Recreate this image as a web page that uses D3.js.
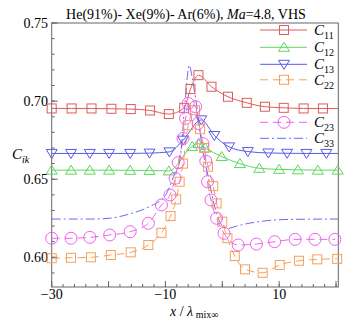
<!DOCTYPE html>
<html lang="en">
<head>
<meta charset="UTF-8">
<title>C_ik profiles</title>
<script src="https://d3js.org/d3.v7.min.js"></script>
<style>
body{margin:0; background:#fff;}
svg text{font-family:"Liberation Serif","Times New Roman",serif; fill:#000;}
</style>
</head>
<body>
<div class="chart"></div>
<script>
// data
var c11X = [-30,-26.5,-23,-19.5,-16.1,-12.7,-9.4,-6.7,-5.6,-4.2,-1.9,1.0,4.3,7.5,10.8,14.3,17.7,20.4];
var c11Y = [0.6953,0.6953,0.6953,0.6951,0.6949,0.694,0.6917,0.6957,0.7077,0.7166,0.7092,0.7028,0.6989,0.6964,0.6957,0.6953,0.6953,0.6953];

var c12X = [-30,-26.6,-23.3,-19.9,-16.2,-12.8,-9.4,-5.3,-4.2,-3.0,-0.1,3.1,6.5,10.0,13.3,16.8,20.3];
var c12Y = [0.6558,0.6558,0.6558,0.6558,0.6557,0.6556,0.6553,0.671,0.6728,0.670,0.6645,0.660,0.657,0.6563,0.656,0.6558,0.6558];

var c13X = [-30,-26.6,-23.3,-19.9,-16.2,-12.8,-9.3,-6.9,-3.7,-1.4,1.2,4.5,8.1,11.4,14.8,18.3,20.4];
var c13Y = [0.6665,0.6665,0.6665,0.6665,0.6665,0.6667,0.6675,0.675,0.688,0.678,0.6707,0.6677,0.6668,0.6666,0.6665,0.6665,0.6665];

var c22X = [-30,-26.6,-23.1,-19.6,-16.1,-13.0,-10.7,-9.1,-8.1,-7.5,-6.9,-6.0,-4.8,-3.9,-3.2,-2.5,-1.6,-1.0,0.0,0.9,2.2,4.0,7.1,10.1,13.5,16.7,20.2];
var c22Y = [0.5994,0.5997,0.600,0.6015,0.6032,0.6079,0.6157,0.6264,0.6371,0.6484,0.660,0.6846,0.6942,0.682,0.670,0.658,0.6456,0.6345,0.6228,0.6122,0.6008,0.5923,0.5901,0.5951,0.5978,0.5987,0.599];

var c23X = [-30,-26.6,-23.3,-19.8,-16.2,-13.0,-10.7,-9.2,-8.3,-7.75,-6.9,-6.45,-6.0,-4.7,-4.25,-3.4,-2.9,-2.6,-2.0,-1.0,0.3,2.8,6.0,9.2,12.8,16.3,19.8];
var c23Y = [0.6122,0.6122,0.6128,0.6143,0.6164,0.6218,0.6335,0.6399,0.6506,0.6606,0.6761,0.6889,0.6985,0.6964,0.6857,0.6728,0.6616,0.6484,0.6367,0.625,0.6154,0.6079,0.6085,0.610,0.6115,0.6115,0.6115];

var c33X = [-30,-23,-19.9,-15.8,-12.9,-10,-8.3,-7.5,-6.6,-5.8,-5.3,-4.5,-3.6,-2.5,-1.3,0.2,1.0,2.5,5,8,12,20.4];
var c33Y = [0.6245,0.6245,0.625,0.6283,0.6323,0.6398,0.654,0.661,0.697,0.723,0.715,0.697,0.672,0.652,0.632,0.6195,0.6185,0.620,0.622,0.6235,0.6243,0.6245];

var xMajor = [-30,-20,-10,0,10,20];
var xLabels = [-30,-10,10];
var yLabels = [0.60,0.65,0.70,0.75];

var series = [
  {name:"11", xs:c11X, ys:c11Y, color:"#e05a5a", dash:null, marker:"square"},
  {name:"12", xs:c12X, ys:c12Y, color:"#5fd65f", dash:null, marker:"up"},
  {name:"13", xs:c13X, ys:c13Y, color:"#5a5ae6", dash:null, marker:"down"},
  {name:"22", xs:c22X, ys:c22Y, color:"#f5a05a", dash:"8,5", marker:"square"},
  {name:"23", xs:c23X, ys:c23Y, color:"#f060f0", dash:"8,5", marker:"circle"},
  {name:"33", xs:c33X, ys:c33Y, color:"#6a6aea", dash:"9,3,2,3", marker:null}
];

var W = 353, H = 323;
var m = {left:51.7, right:338.3, top:23, bottom:287};

var svg = d3.select(".chart").append("svg")
  .attr("width", W).attr("height", H);

var x = d3.scaleLinear().domain([-30, 20.4]).range([m.left, m.right]);
var y = d3.scaleLinear().domain([0.581, 0.75]).range([m.bottom, m.top]);

svg.append("clipPath").attr("id","clip").append("rect")
  .attr("x", m.left).attr("y", m.top)
  .attr("width", m.right - m.left).attr("height", m.bottom - m.top);

// frame
svg.append("rect")
  .attr("x", m.left).attr("y", m.top)
  .attr("width", m.right - m.left).attr("height", m.bottom - m.top)
  .attr("fill","none").attr("stroke","#666").attr("stroke-width",1);

// x ticks (inside, pointing up)
var xMinor = d3.range(-30, 20.5, 2);
svg.selectAll(".xminor").data(xMinor).enter().append("line")
  .attr("x1", function(d){ return x(d); }).attr("x2", function(d){ return x(d); })
  .attr("y1", m.bottom).attr("y2", m.bottom - 3)
  .attr("stroke","#666");
svg.selectAll(".xmajor").data(xMajor).enter().append("line")
  .attr("x1", function(d){ return x(d); }).attr("x2", function(d){ return x(d); })
  .attr("y1", m.bottom).attr("y2", m.bottom - 6)
  .attr("stroke","#666");
svg.selectAll(".xlab").data(xLabels).enter().append("text")
  .attr("x", function(d){ return x(d); })
  .attr("y", 299)
  .attr("text-anchor","middle")
  .attr("font-size","14px")
  .text(function(d){ return d < 0 ? "\u2212" + Math.abs(d) : d; });

// y ticks (inside, pointing right)
var yMinor = d3.range(0.59, 0.7501, 0.01);
svg.selectAll(".yminor").data(yMinor).enter().append("line")
  .attr("x1", m.left).attr("x2", m.left + 3)
  .attr("y1", function(d){ return y(d); }).attr("y2", function(d){ return y(d); })
  .attr("stroke","#666");
svg.selectAll(".ymajor").data(yLabels).enter().append("line")
  .attr("x1", m.left).attr("x2", m.left + 6)
  .attr("y1", function(d){ return y(d); }).attr("y2", function(d){ return y(d); })
  .attr("stroke","#666");
svg.selectAll(".ylab").data(yLabels).enter().append("text")
  .attr("x", 48)
  .attr("y", function(d){ return y(d) + 5; })
  .attr("text-anchor","end")
  .attr("font-size","14px")
  .text(function(d){ return d.toFixed(2); });

// lines
var plot = svg.append("g").attr("clip-path","url(#clip)");
var line = d3.line()
  .x(function(d){ return x(d[0]); })
  .y(function(d){ return y(d[1]); })
  .curve(d3.curveMonotoneX);

function drawMarker(g, type, cx, cy, color){
  if(type === "square"){
    g.append("rect").attr("x", cx-4.5).attr("y", cy-4.5).attr("width",9).attr("height",9)
      .attr("fill","none").attr("stroke",color);
  } else if(type === "circle"){
    g.append("circle").attr("cx",cx).attr("cy",cy).attr("r",6)
      .attr("fill","none").attr("stroke",color);
  } else if(type === "up"){
    g.append("path").attr("d","M"+cx+","+(cy-5)+"L"+(cx+5.5)+","+(cy+4)+"L"+(cx-5.5)+","+(cy+4)+"Z")
      .attr("fill","none").attr("stroke",color);
  } else if(type === "down"){
    g.append("path").attr("d","M"+cx+","+(cy+5)+"L"+(cx+5.5)+","+(cy-4)+"L"+(cx-5.5)+","+(cy-4)+"Z")
      .attr("fill","none").attr("stroke",color);
  }
}

series.forEach(function(s){
  var pts = s.xs.map(function(v,i){ return [v, s.ys[i]]; });
  plot.append("path").datum(pts)
    .attr("d", line)
    .attr("fill","none")
    .attr("stroke", s.color)
    .attr("stroke-width", 1)
    .attr("stroke-dasharray", s.dash);
  if(s.marker){
    var g = svg.append("g");
    pts.forEach(function(p){
      if(p[0] > 20.35) return;
      drawMarker(g, s.marker, x(p[0]), y(p[1]), s.color);
    });
  }
});

// legend
var legY = [30, 47.3, 64.3, 79.8, 122.3, 138.3];
series.forEach(function(s, i){
  var ly = legY[i];
  svg.append("line").attr("x1",260).attr("x2",307).attr("y1",ly).attr("y2",ly)
    .attr("stroke", s.color).attr("stroke-dasharray", s.dash);
  if(s.marker) drawMarker(svg, s.marker, 284, ly, s.color);
  var t = svg.append("text").attr("x",314).attr("y",ly+5).attr("font-size","15px");
  t.append("tspan").attr("font-style","italic").text("C");
  t.append("tspan").attr("font-size","10px").attr("dy",4).text(s.name);
});

// title
var title = svg.append("text").attr("x",186).attr("y",19)
  .attr("text-anchor","middle").attr("font-size","14px");
title.append("tspan").text("He(91%)- Xe(9%)- Ar(6%), ");
title.append("tspan").attr("font-style","italic").text("Ma");
title.append("tspan").text("=4.8, VHS");

// axis labels
var yl = svg.append("text").attr("x",12).attr("y",159).attr("font-size","15px");
yl.append("tspan").attr("font-style","italic").text("C");
yl.append("tspan").attr("font-style","italic").attr("font-size","10px").attr("dy",4).text("ik");

var xl = svg.append("text").attr("x",170).attr("y",316).attr("font-size","14px");
xl.append("tspan").attr("font-style","italic").text("x");
xl.append("tspan").text(" / ");
xl.append("tspan").attr("font-style","italic").text("\u03bb");
xl.append("tspan").attr("font-size","10px").attr("dy",2).text(" mix\u221e");
</script>
</body>
</html>
